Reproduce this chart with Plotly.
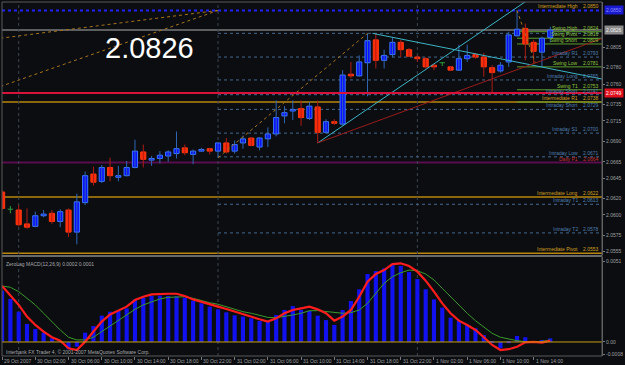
import plotly.graph_objects as go

# ---------------- data ----------------
bar_index = list(range(67))
opens = [2.0628,2.0607,2.0606,2.0589,2.0586,2.0599,2.0602,2.0592,2.0606,2.0579,
         2.0615,2.0650,2.0641,2.0658,2.0646,2.0648,2.0658,2.0677,2.0667,2.0669,
         2.0672,2.0675,2.0682,2.0674,2.0678,2.0681,2.0678,2.0688,2.0678,2.0688,
         2.0694,2.0683,2.0693,2.0699,2.0721,2.0727,2.0730,2.0718,2.0732,2.0701,
         2.0714,2.0711,2.0772,2.0770,2.0786,2.0814,2.0789,2.0796,2.0811,2.0802,
         2.0793,2.0791,2.0783,2.0786,2.0781,2.0777,2.0791,2.0796,2.0793,2.0780,
         2.0776,2.0787,2.0819,2.0828,2.0811,2.0799,2.0817]
highs = [2.0630,2.0611,2.0612,2.0608,2.0604,2.0606,2.0606,2.0607,2.0608,2.0626,
         2.0653,2.0659,2.0661,2.0670,2.0660,2.0666,2.0692,2.0686,2.0672,2.0678,
         2.0679,2.0702,2.0686,2.0680,2.0682,2.0682,2.0689,2.0694,2.0691,2.0697,
         2.0695,2.0695,2.0707,2.0740,2.0733,2.0740,2.0740,2.0738,2.0740,2.0717,
         2.0717,2.0777,2.0787,2.0795,2.0822,2.0822,2.0802,2.0817,2.0814,2.0804,
         2.0795,2.0793,2.0785,2.0787,2.0782,2.0808,2.0808,2.0798,2.0798,2.0783,
         2.0787,2.0824,2.0850,2.0834,2.0814,2.0818,2.0830]
lows = [2.0606,2.0602,2.0586,2.0583,2.0585,2.0597,2.0589,2.0585,2.0573,2.0564,
        2.0612,2.0636,2.0639,2.0641,2.0641,2.0647,2.0657,2.0658,2.0660,2.0663,
        2.0665,2.0669,2.0673,2.0662,2.0677,2.0674,2.0670,2.0675,2.0675,2.0681,
        2.0684,2.0679,2.0683,2.0696,2.0712,2.0716,2.0709,2.0716,2.0688,2.0699,
        2.0710,2.0709,2.0767,2.0769,2.0745,2.0779,2.0779,2.0793,2.0793,2.0793,
        2.0787,2.0779,2.0777,2.0782,2.0776,2.0776,2.0787,2.0791,2.0769,2.0749,
        2.0774,2.0781,2.0818,2.0789,2.0785,2.0781,2.0811]
closes = [2.0608,2.0607,2.0588,2.0585,2.0599,2.0601,2.0592,2.0604,2.0579,2.0616,
          2.0648,2.0640,2.0658,2.0648,2.0648,2.0658,2.0678,2.0668,2.0669,2.0673,
          2.0677,2.0681,2.0676,2.0678,2.0680,2.0678,2.0688,2.0677,2.0686,2.0693,
          2.0685,2.0694,2.0699,2.0719,2.0725,2.0729,2.0719,2.0733,2.0701,2.0714,
          2.0712,2.0771,2.0770,2.0787,2.0813,2.0789,2.0795,2.0811,2.0802,2.0794,
          2.0791,2.0781,2.0781,2.0786,2.0777,2.0791,2.0795,2.0793,2.0781,2.0774,
          2.0783,2.0820,2.0827,2.0809,2.0800,2.0816,2.0826]

macd_hist = [0.00325,0.00273,0.00192,0.00114,0.00082,0.00059,0.00023,0.00002,-0.00046,-0.00030,
             0.00059,0.00101,0.00167,0.00192,0.00203,0.00213,0.00270,0.00281,0.00292,0.00294,
             0.00292,0.00290,0.00281,0.00262,0.00245,0.00224,0.00207,0.00188,0.00169,0.00161,
             0.00150,0.00133,0.00129,0.00171,0.00203,0.00228,0.00203,0.00197,0.00167,0.00139,
             0.00108,0.00203,0.00260,0.00334,0.00431,0.00450,0.00467,0.00488,0.00482,0.00444,
             0.00399,0.00334,0.00270,0.00218,0.00154,0.00133,0.00108,0.00087,0.00044,-0.00004,
             -0.00040,-0.00008,0.00038,0.00030,0.00002,0.00010,0.00023]
macd_line = [0.00355,0.00298,0.00235,0.00161,0.00108,0.00066,0.00030,0.00008,-0.00040,-0.00051,
             0.00002,0.00066,0.00129,0.00175,0.00197,0.00224,0.00266,0.00287,0.00302,0.00306,
             0.00306,0.00306,0.00292,0.00270,0.00256,0.00241,0.00224,0.00209,0.00192,0.00177,
             0.00161,0.00144,0.00129,0.00150,0.00182,0.00203,0.00213,0.00224,0.00207,0.00182,
             0.00135,0.00161,0.00203,0.00287,0.00382,0.00431,0.00456,0.00494,0.00499,0.00482,
             0.00446,0.00389,0.00319,0.00245,0.00182,0.00135,0.00108,0.00076,0.00030,-0.00019,
             -0.00051,-0.00046,-0.00030,-0.00002,0.00000,-0.00004,0.00008]
signal_line = [0.00355,0.00347,0.00319,0.00277,0.00235,0.00182,0.00129,0.00076,0.00030,0.00013,
               0.00013,0.00030,0.00066,0.00101,0.00139,0.00171,0.00207,0.00235,0.00256,0.00273,
               0.00283,0.00287,0.00287,0.00277,0.00262,0.00249,0.00239,0.00224,0.00207,0.00192,
               0.00182,0.00169,0.00156,0.00154,0.00161,0.00171,0.00182,0.00198,0.00199,0.00192,
               0.00188,0.00182,0.00186,0.00203,0.00245,0.00308,0.00372,0.00414,0.00439,0.00456,
               0.00452,0.00431,0.00393,0.00340,0.00287,0.00235,0.00182,0.00135,0.00093,0.00055,
               0.00030,0.00017,0.00008,0.00002,0.00000,0.00004,0.00013]

time_tick_index = [0,4,8,12,16,20,24,28,32,36,40,44,48,52,56,60,64]
time_tick_labels = ["29 Oct 2007","30 Oct 02:00","30 Oct 06:00","30 Oct 10:00","30 Oct 14:00",
                    "30 Oct 18:00","30 Oct 22:00","31 Oct 02:00","31 Oct 06:00","31 Oct 10:00",
                    "31 Oct 14:00","31 Oct 18:00","31 Oct 22:00","1 Nov 02:00","1 Nov 06:00",
                    "1 Nov 10:00","1 Nov 14:00"]
day_separators = [2, 26, 50]

price_ticks = [2.0805,2.0780,2.0760,2.0735,2.0715,2.0690,2.0665,2.0645,2.0620,2.0600,2.0575,2.0555]
macd_ticks = [0.0051, 0.0, -0.0008]
macd_tick_labels = ["0.0051", "0.00", "-0.0008"]

# level lines: (name, value, kind, start index)
levels = [
    ("Intermediate High", 2.0850, "inter_top", None),
    ("Swing High", 2.0824, "swing", 62),
    ("Swing Pivot", 2.0816, "swing", 62),
    ("Swing Short", 2.0809, "swing", 62),
    ("Intraday R1", 2.0793, "intraday", 26),
    ("Swing Low", 2.0781, "swing", 62),
    ("Intraday Long", 2.0765, "intraday", 26),
    ("Swing T1", 2.0753, "swing", 62),
    ("Intraday Short", 2.0747, "intraday", 26),
    ("Intermediate R1", 2.0738, "inter", None),
    ("Intraday Short", 2.0729, "intraday", 26),
    ("Intraday S1", 2.0700, "intraday", 26),
    ("Intraday Low", 2.0671, "intraday", 26),
    ("Daily P1", 2.0664, "daily", None),
    ("Intermediate Long", 2.0622, "inter", None),
    ("Intraday T1", 2.0613, "intraday", 26),
    ("Intraday T2", 2.0578, "intraday", 26),
    ("Intermediate Pivot", 2.0553, "inter", None),
]
intraday_high = 2.0822
swing_r1 = 2.0738
bid_price = 2.0826
alert_price = 2.0749

# trend / fib lines: (x0, y0, x1, y1, kind)
trend_lines = [
    (-0.2, 2.0816, 26, 2.0850, "fib"),
    (-0.2, 2.0757, 26, 2.0850, "fib"),
    (26, 2.0670, 44, 2.0822, "fib"),
    (62, 2.0850, 64.2, 2.0786, "fib"),
    (38, 2.0688, 64.5, 2.0871, "cyan"),
    (44.6, 2.0822, 72.3, 2.0766, "cyan"),
    (38, 2.0688, 72.3, 2.0816, "red"),
]

# ---------------- styles ----------------
BG = "#0b0d11"
XR = [-0.01, 72.23]
FONT = "Liberation Sans, Arial, sans-serif"
kind_line = {
    "swing": dict(color="#5c9e2c", width=1),
    "intraday": dict(color="#46698f", width=1, dash="dot"),
    "inter": dict(color="#b8860b", width=1.5),
    "inter_top": dict(color="#2222ff", width=2, dash="dot"),
    "daily": dict(color="#5a0c4c", width=2),
}
kind_text = {"swing": "#8fc43a", "intraday": "#4f7fae", "inter": "#d4a020",
             "inter_top": "#d4a020", "daily": "#c83030"}
trend_style = {"fib": dict(color="#a8741c", width=1, dash="dot"),
               "cyan": dict(color="#3cb4c4", width=1),
               "red": dict(color="#9a1c1c", width=1)}

fig = go.Figure()

# wicks
def wick_trace(idx, color):
    xs, ys = [], []
    for i in idx:
        xs += [i, i, None]
        ys += [lows[i], highs[i], None]
    return go.Scatter(x=xs, y=ys, mode="lines", line=dict(color=color, width=1),
                      hoverinfo="skip", yaxis="y")

bull = [i for i in bar_index if closes[i] > opens[i]]
bear = [i for i in bar_index if closes[i] < opens[i]]
doji = [i for i in bar_index if closes[i] == opens[i]]

fig.add_trace(wick_trace(bull, "#2f66b4"))
fig.add_trace(wick_trace(bear, "#b01c14"))
fig.add_trace(wick_trace(doji, "#2e9a3a"))

fig.add_trace(go.Bar(x=bull, y=[closes[i] - opens[i] for i in bull], base=[opens[i] for i in bull],
                     width=0.62, marker=dict(color="#0a10ff", line=dict(color="#3c78ff", width=1)),
                     yaxis="y", hoverinfo="skip"))
fig.add_trace(go.Bar(x=bear, y=[opens[i] - closes[i] for i in bear], base=[closes[i] for i in bear],
                     width=0.62, marker=dict(color="#ff2a08", line=dict(color="#ff3a10", width=1)),
                     yaxis="y", hoverinfo="skip"))
dx, dy = [], []
for i in doji:
    dx += [i - 0.32, i + 0.32, None]
    dy += [opens[i], opens[i], None]
fig.add_trace(go.Scatter(x=dx, y=dy, mode="lines", line=dict(color="#2e9a3a", width=1),
                         yaxis="y", hoverinfo="skip"))

# trend lines
for x0, y0, x1, y1, k in trend_lines:
    fig.add_trace(go.Scatter(x=[x0, x1], y=[y0, y1], mode="lines", line=trend_style[k],
                             yaxis="y", hoverinfo="skip"))

# MACD
fig.add_trace(go.Bar(x=bar_index, y=macd_hist, width=0.5, marker=dict(color="#1212f0", line=dict(width=0)),
                     yaxis="y2", hoverinfo="skip"))
fig.add_trace(go.Scatter(x=bar_index, y=signal_line, mode="lines", line=dict(color="#3a9a2a", width=1),
                         yaxis="y2", hoverinfo="skip"))
fig.add_trace(go.Scatter(x=bar_index, y=macd_line, mode="lines", line=dict(color="#ff1c1c", width=2.2),
                         yaxis="y2", hoverinfo="skip"))

shapes = []
annotations = []

def px_x(p):
    return (p - 2) / 602.0

def px_y(p):
    return (356 - p) / 354.0

# level lines + labels
for name, val, kind, start in levels:
    if start is None:
        shapes.append(dict(type="line", xref="paper", yref="y", x0=0, x1=1, y0=val, y1=val,
                           line=kind_line[kind], layer="below"))
    else:
        shapes.append(dict(type="line", xref="x", yref="y", x0=start, x1=XR[1], y0=val, y1=val,
                           line=kind_line[kind], layer="below"))
    annotations.append(dict(xref="paper", yref="y", x=px_x(582), y=val, text=name, showarrow=False,
                            xanchor="right", yanchor="bottom", yshift=-1,
                            font=dict(size=5, color=kind_text[kind], family=FONT)))
    annotations.append(dict(xref="paper", yref="y", x=px_x(603), y=val, text=f"{val:.4f}", showarrow=False,
                            xanchor="right", yanchor="bottom", yshift=-1,
                            font=dict(size=5, color=kind_text[kind], family=FONT)))

shapes.append(dict(type="line", xref="x", yref="y", x0=26, x1=XR[1], y0=intraday_high, y1=intraday_high,
                   line=kind_line["intraday"], layer="below"))
shapes.append(dict(type="line", xref="x", yref="y", x0=62, x1=XR[1], y0=swing_r1, y1=swing_r1,
                   line=kind_line["swing"], layer="below"))
shapes.append(dict(type="line", xref="paper", yref="y", x0=0, x1=1, y0=bid_price, y1=bid_price,
                   line=dict(color="#7a7a7a", width=1.5), layer="below"))
shapes.append(dict(type="line", xref="paper", yref="y", x0=0, x1=1, y0=alert_price, y1=alert_price,
                   line=dict(color="#d8123a", width=2)))

# day separators
for d in day_separators:
    shapes.append(dict(type="line", xref="x", yref="paper", x0=d, x1=d, y0=0, y1=1,
                       line=dict(color="#3c4652", width=1, dash="dot"), layer="below"))

# macd zero line
shapes.append(dict(type="line", xref="paper", yref="y2", x0=0, x1=1, y0=0, y1=0,
                   line=dict(color="#c8a010", width=1)))
# panel separator and border
shapes.append(dict(type="line", xref="paper", yref="paper", x0=0, x1=1, y0=px_y(256), y1=px_y(256),
                   line=dict(color="#6a6a6a", width=2)))
shapes.append(dict(type="rect", xref="paper", yref="paper", x0=0, x1=1, y0=0, y1=1,
                   line=dict(color="#5a5a5a", width=1)))

# axis boxes
annotations.append(dict(xref="paper", yref="y", x=1.004, y=2.0850, text="2.0850", showarrow=False,
                        xanchor="left", yanchor="middle", bgcolor="#1a1ad0", borderpad=1,
                        font=dict(size=5, color="#8c8cff", family=FONT)))
annotations.append(dict(xref="paper", yref="y", x=1.004, y=bid_price, text="2.0826", showarrow=False,
                        xanchor="left", yanchor="middle", bgcolor="#8a8a8a", borderpad=1,
                        font=dict(size=5, color="#f0f0f0", family=FONT)))
annotations.append(dict(xref="paper", yref="y", x=1.004, y=alert_price, text="2.0749", showarrow=False,
                        xanchor="left", yanchor="middle", bgcolor="#e0101e", borderpad=1,
                        font=dict(size=5, color="#ffffff", family=FONT)))

# big price text
annotations.append(dict(xref="paper", yref="paper", x=px_x(150), y=px_y(48), text="2.0826", showarrow=False,
                        xanchor="center", yanchor="middle",
                        font=dict(size=29, color="#ffffff", family=FONT)))
annotations.append(dict(xref="paper", yref="paper", x=px_x(4), y=px_y(264),
                        text="ZeroLag MACD(12,26,9) 0.0002 0.0001", showarrow=False,
                        xanchor="left", yanchor="middle", font=dict(size=5, color="#a8a8a8", family=FONT)))
annotations.append(dict(xref="paper", yref="paper", x=px_x(4), y=px_y(351.5),
                        text="Interbank FX Trader 4, © 2001-2007 MetaQuotes Software Corp.", showarrow=False,
                        xanchor="left", yanchor="middle", font=dict(size=5, color="#a8a8a8", family=FONT)))
for i, lab in zip(time_tick_index, time_tick_labels):
    annotations.append(dict(xref="x", yref="paper", x=i, y=px_y(361), text=lab, showarrow=False,
                            xanchor="left", yanchor="middle", xshift=0,
                            font=dict(size=5, color="#a0a0a0", family=FONT)))

fig.update_layout(
    width=625, height=365,
    margin=dict(l=2, r=21, t=2, b=9),
    paper_bgcolor=BG, plot_bgcolor=BG,
    showlegend=False, hovermode=False, barmode="overlay",
    shapes=shapes, annotations=annotations,
    xaxis=dict(range=XR, anchor="y2", showgrid=False, zeroline=False, showticklabels=False,
               tickvals=time_tick_index, ticks="outside", ticklen=3, tickcolor="#7a7a7a",
               showline=False),
    yaxis=dict(domain=[px_y(255), 1], range=[2.05510, 2.08603], side="right", anchor="x",
               showgrid=False, zeroline=False, tickvals=price_ticks,
               ticktext=[f"{v:.4f}" for v in price_ticks], ticks="outside", ticklen=2,
               tickcolor="#7a7a7a", tickfont=dict(size=5, color="#a0a0a0", family=FONT),
               showline=True, linecolor="#6a6a6a"),
    yaxis2=dict(domain=[0, px_y(257)], range=[-0.00089, 0.00539], side="right", anchor="x",
                showgrid=False, zeroline=False, tickvals=macd_ticks, ticktext=macd_tick_labels,
                ticks="outside", ticklen=2, tickcolor="#7a7a7a",
                tickfont=dict(size=5, color="#a0a0a0", family=FONT),
                showline=True, linecolor="#6a6a6a"),
)

fig.write_html("out.html")
